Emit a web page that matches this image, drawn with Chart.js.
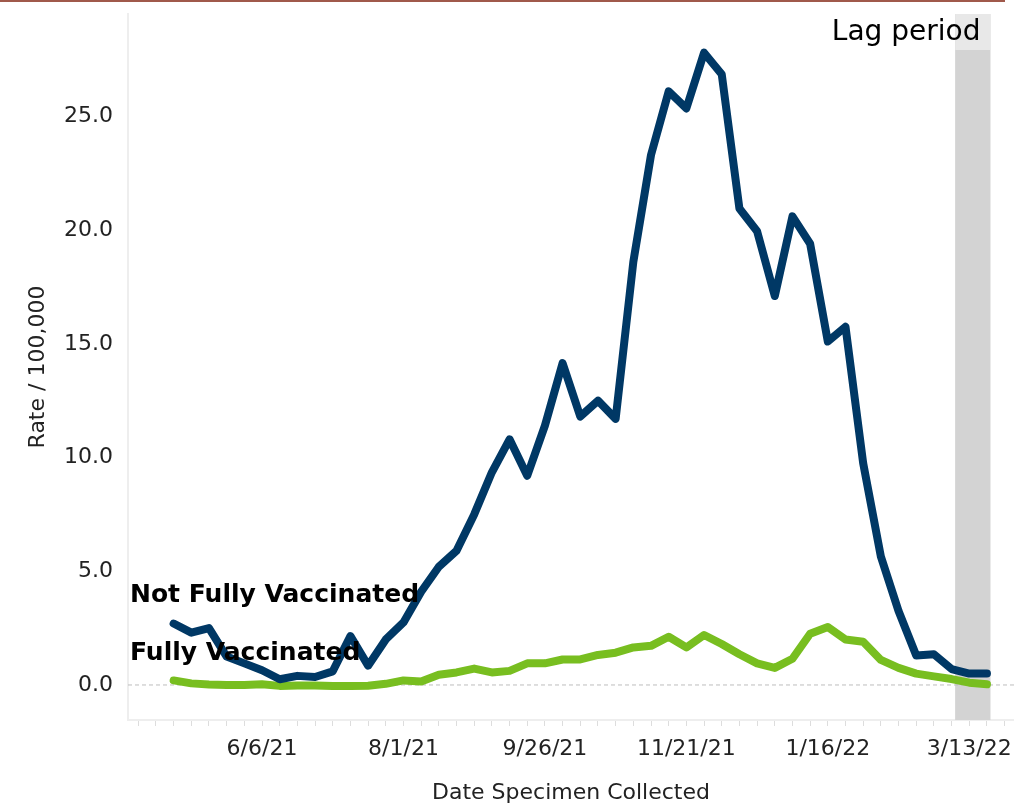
<!DOCTYPE html>
<html>
<head>
<meta charset="utf-8">
<script src="https://cdn.jsdelivr.net/npm/chart.js@4/dist/chart.umd.min.js"></script>
<style>
  html, body { margin: 0; padding: 0; background: #fff; }
  #wrap { position: relative; width: 1014px; height: 809px; }
  #topRule { position: absolute; left: 0; top: 0; width: 1005px; height: 2px; background: #a0594b; }
  canvas { display: block; }
</style>
</head>
<body>
<div id="wrap">
  <div id="topRule"></div>
  <canvas id="rateChart" width="1014" height="809"></canvas>
</div>
<script>
// weekly collection dates (week starting Sunday)
const weeks = [
    '5/2/21', '5/9/21', '5/16/21', '5/23/21', '5/30/21', '6/6/21', '6/13/21', '6/20/21',
    '6/27/21', '7/4/21', '7/11/21', '7/18/21', '7/25/21', '8/1/21', '8/8/21', '8/15/21',
    '8/22/21', '8/29/21', '9/5/21', '9/12/21', '9/19/21', '9/26/21', '10/3/21', '10/10/21',
    '10/17/21', '10/24/21', '10/31/21', '11/7/21', '11/14/21', '11/21/21', '11/28/21', '12/5/21',
    '12/12/21', '12/19/21', '12/26/21', '1/2/22', '1/9/22', '1/16/22', '1/23/22', '1/30/22',
    '2/6/22', '2/13/22', '2/20/22', '2/27/22', '3/6/22', '3/13/22', '3/20/22'
];

const notFullyVaccinated = [
    2.7, 2.3, 2.5, 1.25, 0.95, 0.65, 0.25, 0.4, 0.35, 0.6,
    2.15, 0.85, 2.0, 2.75, 4.1, 5.2, 5.9, 7.5, 9.35, 10.8,
    9.2, 11.4, 14.15, 11.8, 12.5, 11.7, 18.6, 23.3, 26.1, 25.35,
    27.8, 26.85, 20.95, 19.95, 17.1, 20.6, 19.4, 15.1, 15.75, 9.75,
    5.65, 3.25, 1.3, 1.35, 0.7, 0.5, 0.5
];

const fullyVaccinated = [
    0.2, 0.07, 0.02, 0.0, 0.0, 0.03, -0.04, -0.02, -0.02, -0.05,
    -0.05, -0.03, 0.05, 0.2, 0.15, 0.45, 0.55, 0.72, 0.55, 0.62,
    0.95, 0.95, 1.12, 1.12, 1.32, 1.42, 1.65, 1.72, 2.12, 1.65,
    2.2, 1.8, 1.35, 0.95, 0.75, 1.15, 2.25, 2.55, 2.0, 1.9,
    1.1, 0.75, 0.5, 0.38, 0.26, 0.1, 0.03
];

const tickLabels = ['6/6/21', '8/1/21', '9/26/21', '11/21/21', '1/16/22', '3/13/22'];
const yTicks = [0, 5, 10, 15, 20, 25];

// shaded lag period, in week positions
const lagStart = 44.2;
const lagEnd = 46.2;

const FONT = "'DejaVu Sans', sans-serif";
const BLUE = '#003865';
const GREEN = '#78be20';

const toPoints = values => values.map((v, i) => ({ x: i, y: v }));

const lagBand = {
    id: 'lagBand',
    beforeDatasetsDraw(chart) {
        const { ctx, chartArea, scales } = chart;
        const x0 = scales.x.getPixelForValue(lagStart);
        const x1 = scales.x.getPixelForValue(lagEnd);
        ctx.save();
        ctx.fillStyle = '#d3d3d3';
        ctx.fillRect(x0, chartArea.top, x1 - x0, chartArea.bottom - chartArea.top);
        ctx.fillStyle = '#e8e8e8';
        ctx.fillRect(x0, chartArea.top, x1 - x0, 36);

        // dashed zero line
        const y0 = scales.y.getPixelForValue(0);
        ctx.strokeStyle = '#bdbdbd';
        ctx.lineWidth = 1;
        ctx.setLineDash([4, 3]);
        ctx.beginPath();
        ctx.moveTo(chartArea.left, y0);
        ctx.lineTo(chartArea.right, y0);
        ctx.stroke();
        ctx.restore();
    },
    afterDatasetsDraw(chart) {
        const { ctx, chartArea, scales } = chart;
        ctx.save();
        ctx.fillStyle = '#000';
        ctx.textBaseline = 'middle';
        ctx.textAlign = 'right';
        ctx.font = `28px ${FONT}`;
        ctx.fillText('Lag period', scales.x.getPixelForValue(lagEnd) - 10, chartArea.top + 19);

        ctx.textAlign = 'left';
        ctx.font = `bold 25px ${FONT}`;
        ctx.fillText('Not Fully Vaccinated', chartArea.left + 2, scales.y.getPixelForValue(3.95));
        ctx.fillText('Fully Vaccinated', chartArea.left + 2, scales.y.getPixelForValue(1.4));
        ctx.restore();
    }
};

const lineStyle = {
    borderWidth: 8,
    pointRadius: 0,
    tension: 0,
    borderCapStyle: 'round',
    borderJoinStyle: 'round'
};

new Chart(document.getElementById('rateChart'), {
    type: 'line',
    data: {
        datasets: [
            { label: 'Not Fully Vaccinated', data: toPoints(notFullyVaccinated), borderColor: BLUE, ...lineStyle },
            { label: 'Fully Vaccinated', data: toPoints(fullyVaccinated), borderColor: GREEN, ...lineStyle }
        ]
    },
    options: {
        responsive: false,
        animation: false,
        layout: { padding: { top: 14, left: 0, right: 0, bottom: 0 } },
        plugins: {
            legend: { display: false },
            tooltip: { enabled: false }
        },
        scales: {
            x: {
                type: 'linear',
                min: -2.58,
                max: 47.53,
                afterBuildTicks: scale => {
                    const ticks = [];
                    for (let i = -2; i <= 47; i++) ticks.push({ value: i });
                    scale.ticks = ticks;
                },
                afterFit: scale => {
                    scale.height = 89;
                    scale.paddingLeft = 0;
                    scale.paddingRight = 0;
                },
                ticks: {
                    autoSkip: false,
                    maxRotation: 0,
                    padding: 10,
                    color: '#222',
                    font: { family: FONT, size: 22 },
                    callback: value => (tickLabels.includes(weeks[value]) ? weeks[value] : '')
                },
                grid: {
                    drawOnChartArea: false,
                    tickLength: 6,
                    tickColor: '#dddddd'
                },
                border: { color: '#eeeeee', width: 2 },
                title: {
                    display: true,
                    text: 'Date Specimen Collected',
                    color: '#222',
                    font: { family: FONT, size: 22 },
                    padding: { top: 6, bottom: 3 }
                }
            },
            y: {
                min: -1.54,
                max: 29.5,
                afterBuildTicks: scale => {
                    scale.ticks = yTicks.map(v => ({ value: v }));
                },
                afterFit: scale => {
                    scale.width = 128;
                    scale.paddingTop = 0;
                    scale.paddingBottom = 0;
                },
                ticks: {
                    padding: 15,
                    color: '#222',
                    font: { family: FONT, size: 22 },
                    callback: value => value.toFixed(1)
                },
                grid: { display: false, drawTicks: false },
                border: { color: '#eeeeee', width: 2 },
                title: {
                    display: true,
                    text: 'Rate / 100,000',
                    color: '#222',
                    font: { family: FONT, size: 22 },
                    padding: { top: 25, bottom: 0 }
                }
            }
        }
    },
    plugins: [lagBand]
});
</script>
</body>
</html>
